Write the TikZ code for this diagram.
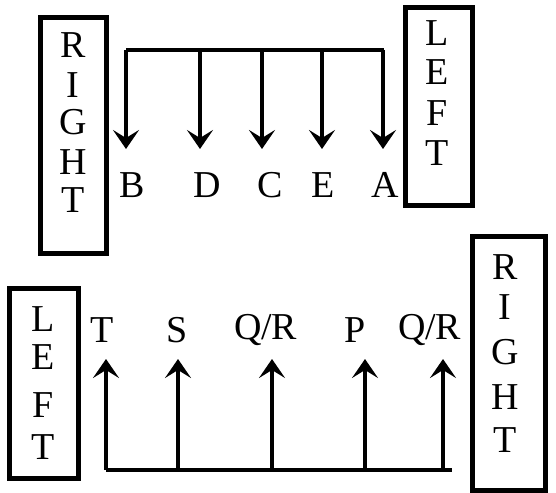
\documentclass[tikz,border=0pt]{standalone}
\usepackage{fontspec}
\setmainfont{Liberation Serif}
\usetikzlibrary{arrows.meta}
\tikzset{
  frame/.style={draw=black, line width=5pt},
  letter/.style={inner sep=0pt, font=\fontsize{38}{40}\selectfont},
  bar/.style={draw=black, line width=4.5pt},
  arr/.style={draw=black, line width=4pt, -{Stealth[length=19pt,width=26pt,inset=8pt]}},
}
\begin{document}
\begin{tikzpicture}[x=1pt,y=-1pt]
\useasboundingbox (0,0) rectangle (556,492);
% ---- top ----
\draw[frame] (40,18) rectangle (106,253);
\foreach \l/\yy [count=\i] in {R/45,I/85,G/122,H/162,T/200}
  \node[letter] (tr\i) at (73,\yy) {\l};
\draw[frame] (405,8) rectangle (472,205);
\foreach \l/\yy [count=\i] in {L/33,E/72,F/113,T/153}
  \node[letter] (tl\i) at (437,\yy) {\l};
\coordinate (tb1) at (126,50);
\coordinate (tb2) at (384,50);
\draw[bar] (tb1) -- (tb2);
\foreach \n/\x/\lx in {B/126/132,D/200/207,C/262/270,E/322/323,A/383/385}{
  \coordinate (ts\n) at (\x,50);
  \coordinate (te\n) at (\x,149);
  \draw[arr] (ts\n) -- (te\n);
  \node[letter] (lab\n) at (\lx,185) {\n};
}
% ---- bottom ----
\draw[frame] (9,288) rectangle (78,478);
\foreach \l/\yy [count=\i] in {L/319,E/357,F/405,T/447}
  \node[letter] (bl\i) at (43,\yy) {\l};
\draw[frame] (472,236) rectangle (545,490);
\foreach \l/\yy [count=\i] in {R/267,I/307,G/352,H/397,T/440}
  \node[letter] (br\i) at (505,\yy) {\l};
\coordinate (bb1) at (106,470);
\coordinate (bb2) at (452,470);
\draw[bar] (bb1) -- (bb2);
\foreach \k/\t/\x/\lx in {1/{T}/106/102,2/{S}/178/177,3/{Q\kern-1pt/R}/272/266,4/{P}/365/355,5/{Q\kern-1pt/R}/443/430}{
  \coordinate (bs\k) at (\x,470);
  \coordinate (be\k) at (\x,359);
  \draw[arr] (bs\k) -- (be\k);
  \node[letter] (blab\k) at (\lx,330) {\t};
}
\end{tikzpicture}
\end{document}
